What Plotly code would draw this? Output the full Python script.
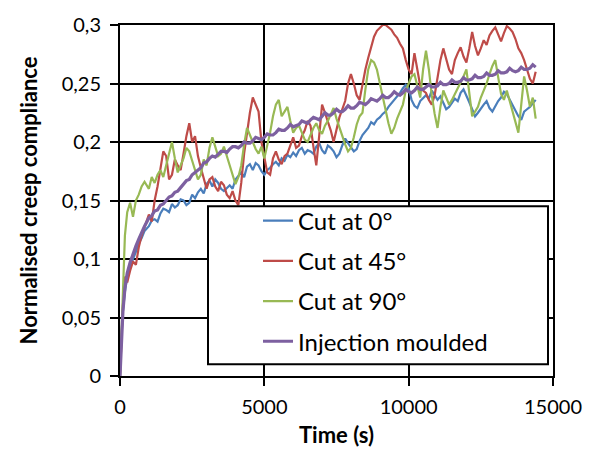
import plotly.graph_objects as go

time_s = [0, 40, 100, 170, 250, 350, 450, 550, 650, 750, 850,
          1000, 1100, 1200, 1300, 1400, 1500, 1600, 1700, 1800, 1900,
          2000, 2100, 2200, 2300, 2400, 2500, 2600, 2700, 2800, 2900,
          3000, 3100, 3200, 3300, 3400, 3500, 3600, 3700, 3800, 3900,
          4000, 4100, 4200, 4300, 4400, 4500, 4600, 4700, 4800, 4900,
          5000, 5100, 5200, 5300, 5400, 5500, 5600, 5700, 5800, 5900,
          6000, 6100, 6200, 6300, 6400, 6500, 6600, 6700, 6800, 6900,
          7000, 7100, 7200, 7300, 7400, 7500, 7600, 7700, 7800, 7900,
          8000, 8100, 8200, 8300, 8400, 8500, 8600, 8700, 8800, 8900,
          9000, 9100, 9200, 9300, 9400, 9500, 9600, 9700, 9800, 9900,
          10000, 10100, 10200, 10300, 10400, 10500, 10600, 10700, 10800, 10900,
          11000, 11100, 11200, 11300, 11400, 11500, 11600, 11700, 11800, 11900,
          12000, 12100, 12200, 12300, 12400, 12500, 12600, 12700, 12800, 12900,
          13000, 13100, 13200, 13300, 13400, 13500, 13600, 13700, 13800, 13900,
          14000, 14100, 14200, 14300, 14400]

cut_0 = [0, 0.030, 0.055, 0.072, 0.085, 0.093, 0.100, 0.106, 0.113, 0.118, 0.124,
         0.128, 0.133, 0.134, 0.132, 0.139, 0.143, 0.142, 0.140, 0.147, 0.144,
         0.146, 0.151, 0.150, 0.146, 0.148, 0.155, 0.152, 0.157, 0.160, 0.156,
         0.164, 0.167, 0.162, 0.168, 0.165, 0.160, 0.158, 0.161, 0.163, 0.160,
         0.168, 0.171, 0.174, 0.170, 0.179, 0.181, 0.176, 0.182, 0.180, 0.175,
         0.172, 0.176, 0.178, 0.181, 0.183, 0.180, 0.186, 0.184, 0.189, 0.187,
         0.191, 0.188, 0.193, 0.195, 0.190, 0.193, 0.192, 0.190, 0.196, 0.199,
         0.193, 0.190, 0.197, 0.195, 0.192, 0.187, 0.190, 0.197, 0.203, 0.199,
         0.196, 0.192, 0.194, 0.201, 0.206, 0.209, 0.212, 0.217, 0.215, 0.219,
         0.221, 0.224, 0.226, 0.230, 0.233, 0.236, 0.238, 0.242, 0.246, 0.249,
         0.246, 0.236, 0.231, 0.229, 0.235, 0.238, 0.240, 0.237, 0.244, 0.240,
         0.236, 0.239, 0.233, 0.228, 0.230, 0.234, 0.237, 0.235, 0.242, 0.245,
         0.240, 0.234, 0.228, 0.222, 0.225, 0.229, 0.232, 0.235, 0.229, 0.226,
         0.231, 0.235, 0.238, 0.243, 0.241, 0.236, 0.232, 0.227, 0.222, 0.219,
         0.226, 0.228, 0.230, 0.233, 0.236]

cut_45 = [0, 0.030, 0.060, 0.085, 0.080, 0.090, 0.098, 0.095, 0.110, 0.120, 0.128,
          0.138, 0.132, 0.150, 0.162, 0.178, 0.192, 0.188, 0.168, 0.172, 0.185,
          0.180, 0.176, 0.190, 0.205, 0.216, 0.200, 0.205, 0.188, 0.178, 0.170,
          0.160, 0.168, 0.170, 0.162, 0.158, 0.166, 0.163, 0.155, 0.152, 0.158,
          0.150, 0.146, 0.165, 0.190, 0.208, 0.225, 0.238, 0.232, 0.226, 0.200,
          0.186, 0.174, 0.172, 0.186, 0.192, 0.185, 0.181, 0.188, 0.190, 0.198,
          0.204, 0.195, 0.197, 0.205, 0.210, 0.218, 0.214, 0.196, 0.180, 0.205,
          0.232, 0.225, 0.218, 0.210, 0.200, 0.212, 0.221, 0.228, 0.235, 0.250,
          0.258, 0.250, 0.240, 0.236, 0.250, 0.262, 0.272, 0.282, 0.290, 0.295,
          0.298, 0.300, 0.300, 0.298, 0.296, 0.292, 0.289, 0.284, 0.280, 0.270,
          0.262, 0.258, 0.276, 0.262, 0.248, 0.244, 0.242, 0.236, 0.232, 0.240,
          0.255, 0.270, 0.280, 0.272, 0.262, 0.258, 0.270, 0.276, 0.281, 0.273,
          0.268, 0.280, 0.294, 0.282, 0.274, 0.280, 0.287, 0.283, 0.291, 0.295,
          0.298, 0.292, 0.286, 0.293, 0.299, 0.297, 0.294, 0.288, 0.280, 0.276,
          0.270, 0.262, 0.254, 0.250, 0.260]

cut_90 = [0, 0.028, 0.075, 0.120, 0.140, 0.148, 0.136, 0.150, 0.155, 0.162, 0.166,
          0.160, 0.170, 0.165, 0.172, 0.176, 0.170, 0.180, 0.190, 0.200, 0.186,
          0.174, 0.180, 0.186, 0.195, 0.192, 0.184, 0.176, 0.168, 0.172, 0.185,
          0.180, 0.195, 0.204, 0.196, 0.188, 0.190, 0.196, 0.188, 0.180, 0.172,
          0.164, 0.170, 0.180, 0.198, 0.212, 0.206, 0.200, 0.194, 0.190, 0.196,
          0.186, 0.196, 0.208, 0.222, 0.232, 0.236, 0.222, 0.226, 0.230, 0.218,
          0.208, 0.212, 0.214, 0.208, 0.202, 0.200, 0.206, 0.212, 0.216, 0.210,
          0.207, 0.214, 0.218, 0.224, 0.229, 0.220, 0.212, 0.205, 0.198, 0.192,
          0.195, 0.204, 0.215, 0.222, 0.225, 0.245, 0.262, 0.270, 0.268, 0.262,
          0.250, 0.240, 0.228, 0.216, 0.207, 0.212, 0.220, 0.226, 0.232, 0.244,
          0.250, 0.256, 0.258, 0.248, 0.238, 0.262, 0.278, 0.262, 0.240, 0.224,
          0.212, 0.230, 0.244, 0.238, 0.232, 0.236, 0.241, 0.246, 0.250, 0.256,
          0.262, 0.240, 0.222, 0.226, 0.230, 0.238, 0.244, 0.250, 0.258, 0.265,
          0.270, 0.255, 0.241, 0.236, 0.244, 0.235, 0.226, 0.215, 0.208, 0.232,
          0.256, 0.244, 0.230, 0.238, 0.220]

injection = [0, 0.030, 0.055, 0.075, 0.088, 0.097, 0.105, 0.111, 0.117, 0.123, 0.128,
             0.135, 0.137, 0.141, 0.142, 0.146, 0.147, 0.150, 0.153, 0.154, 0.157,
             0.158, 0.161, 0.163, 0.167, 0.168, 0.172, 0.174, 0.176, 0.178, 0.182,
             0.183, 0.186, 0.188, 0.187, 0.190, 0.192, 0.192, 0.191, 0.194, 0.196,
             0.196, 0.195, 0.197, 0.200, 0.199, 0.199, 0.201, 0.204, 0.203, 0.202,
             0.204, 0.207, 0.206, 0.206, 0.208, 0.211, 0.210, 0.210, 0.212, 0.215,
             0.213, 0.214, 0.215, 0.218, 0.217, 0.216, 0.219, 0.221, 0.220, 0.219,
             0.222, 0.225, 0.223, 0.223, 0.225, 0.228, 0.226, 0.226, 0.228, 0.231,
             0.229, 0.229, 0.231, 0.234, 0.233, 0.232, 0.234, 0.237, 0.236, 0.235,
             0.237, 0.240, 0.238, 0.238, 0.240, 0.243, 0.241, 0.240, 0.242, 0.245,
             0.243, 0.242, 0.244, 0.247, 0.245, 0.245, 0.247, 0.249, 0.247, 0.247,
             0.248, 0.251, 0.249, 0.249, 0.250, 0.253, 0.251, 0.251, 0.252, 0.255,
             0.253, 0.253, 0.254, 0.257, 0.255, 0.255, 0.256, 0.259, 0.257, 0.257,
             0.258, 0.261, 0.259, 0.259, 0.260, 0.263, 0.261, 0.260, 0.261, 0.264,
             0.262, 0.262, 0.263, 0.266, 0.264]

series_names = ["Cut at 0°", "Cut at 45°", "Cut at 90°", "Injection moulded"]
series_values = [cut_0, cut_45, cut_90, injection]
series_colors = ["#4A7EBB", "#BE4B48", "#98B954", "#7D60A0"]
series_widths = [2.2, 2.2, 2.2, 3.2]

x_ticks = [0, 5000, 10000, 15000]
x_tick_labels = ["0", "5000", "10000", "15000"]
y_ticks = [0, 0.05, 0.1, 0.15, 0.2, 0.25, 0.3]
y_tick_labels = ["0", "0,05", "0,1", "0,15", "0,2", "0,25", "0,3"]

W, H = 595, 458
L, R, T, B = 120, 42, 16, 82
pw, ph = W - L - R, H - T - B

fig = go.Figure()
for i, (name, vals, col, lw) in enumerate(zip(series_names, series_values, series_colors, series_widths)):
    fig.add_trace(go.Scatter(x=time_s, y=vals, mode="lines", name=name,
                             legendgroup=str(i),
                             line=dict(color=col, width=lw)))

def px_x(px):
    return (px - L) / pw

def px_y(py):
    return (H - B - py) / ph

# legend frame
fig.add_shape(type="rect", xref="paper", yref="paper",
              x0=px_x(208), x1=px_x(548), y0=px_y(364), y1=px_y(202),
              line=dict(color="black", width=2), fillcolor="white", layer="above")

font_family = "Lato, Carlito, Calibri, sans-serif"
fig.update_layout(
    width=W, height=H,
    margin=dict(l=L, r=R, t=T, b=B),
    paper_bgcolor="white", plot_bgcolor="white",
    separators=",.",
    font=dict(family=font_family, size=20, color="black"),
    showlegend=True,
    legend=dict(x=px_x(258), y=px_y(194), xanchor="left", yanchor="top",
                bgcolor="rgba(0,0,0,0)", borderwidth=0,
                font=dict(size=24, family=font_family),
                tracegroupgap=6, traceorder="grouped"),
    xaxis=dict(range=[0, 15000], tickvals=x_ticks, ticktext=x_tick_labels,
               showgrid=True, ticklabelstandoff=4,
               gridcolor="black", gridwidth=2, showline=True, linecolor="black",
               linewidth=2, mirror=True, ticks="outside", ticklen=8, tickwidth=2,
               tickcolor="black", zeroline=False,
               title=dict(text="<b>Time (s)</b>", standoff=11, font=dict(size=22))),
    yaxis=dict(range=[0, 0.3], tickvals=y_ticks, ticktext=y_tick_labels,
               showgrid=True, ticklabelstandoff=5,
               gridcolor="black", gridwidth=2, showline=True, linecolor="black",
               linewidth=2, mirror=True, ticks="outside", ticklen=8, tickwidth=2,
               tickcolor="black", zeroline=False,
               title=dict(text="<b>Normalised creep compliance</b>", standoff=18,
                          font=dict(size=22))),
)

fig.write_html("out.html")
